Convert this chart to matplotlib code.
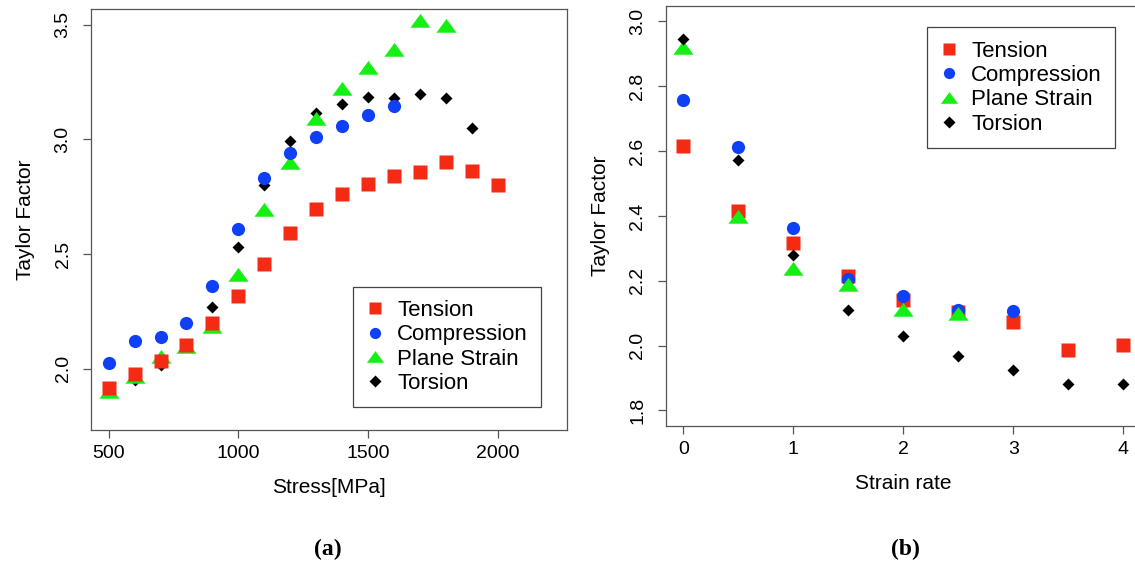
import matplotlib
matplotlib.use("Agg")
import matplotlib.pyplot as plt

plt.rcParams['font.family'] = ['Liberation Sans', 'DejaVu Sans']

# ---- panel (a): Taylor factor vs stress ----
stress = [500, 600, 700, 800, 900, 1000, 1100, 1200, 1300, 1400, 1500, 1600,
          1700, 1800, 1900, 2000]
tension_a = [1.917, 1.978, 2.032, 2.105, 2.20, 2.316, 2.455, 2.59, 2.697,
             2.761, 2.806, 2.841, 2.859, 2.90, 2.864, 2.80]
compression_a = [2.026, 2.12, 2.138, 2.20, 2.361, 2.61, 2.83, 2.94, 3.009,
                 3.057, 3.108, 3.147]
plane_a = [1.90, 1.963, 2.05, 2.094, 2.18, 2.41, 2.69, 2.897, 3.09, 3.22,
           3.31, 3.39, 3.515, 3.495]
torsion_a = [1.91, 1.95, 2.015, 2.10, 2.27, 2.532, 2.80, 2.994, 3.115, 3.156,
             3.185, 3.18, 3.20, 3.18, 3.05]

# ---- panel (b): Taylor factor vs strain rate ----
rate = [0, 0.5, 1, 1.5, 2, 2.5, 3, 3.5, 4]
tension_b = [2.616, 2.416, 2.318, 2.216, 2.142, 2.105, 2.073, 1.986, 2.003]
compression_b = [2.757, 2.613, 2.362, 2.206, 2.152, 2.109, 2.108]
plane_b = [2.919, 2.398, 2.236, 2.186, 2.111, 2.098]
torsion_b = [2.947, 2.574, 2.279, 2.11, 2.029, 1.969, 1.926, 1.882, 1.882]

labels = ["Tension", "Compression", "Plane Strain", "Torsion"]
colors = ["#f52a14", "#1040f5", "#14f014", "black"]
tri = [(-1, -0.62), (1, -0.62), (0, 0.75)]
markers = ["s", "o", tri, "D"]
sizes = [9.5, 9.5, 14.5, 6.6]

fig = plt.figure(figsize=(11.35, 5.71), dpi=100)
ax1 = fig.add_axes([0.0802, 0.2469, 0.4196, 0.7368])
ax2 = fig.add_axes([0.5865, 0.2539, 0.4188, 0.7359])


def draw(ax, xs, series, zorders):
    handles = []
    for ys, lab, c, m, s, z in zip(series, labels, colors, markers, sizes, zorders):
        h, = ax.plot(xs[:len(ys)], ys, linestyle="none", marker=m, ms=s,
                     color=c, mec="none", label=lab, zorder=z)
        handles.append(h)
    return handles


h1 = draw(ax1, stress, [tension_a, compression_a, plane_a, torsion_a], [6, 5, 4, 3])
h2 = draw(ax2, rate, [tension_b, compression_b, plane_b, torsion_b], [3, 4, 5, 6])

ax1.set_xlim(432, 2268)
ax1.set_ylim(1.732, 3.568)
ax1.set_xticks([500, 1000, 1500, 2000])
ax1.set_yticks([2.0, 2.5, 3.0, 3.5])
ax1.set_xlabel("Stress[MPa]", fontsize=15, labelpad=11)

ax2.set_xlim(-0.16, 4.16)
ax2.set_ylim(1.752, 3.048)
ax2.set_xticks([0, 1, 2, 3, 4])
ax2.set_yticks([1.8, 2.0, 2.2, 2.4, 2.6, 2.8, 3.0])
ax2.set_xlabel("Strain rate", fontsize=15, labelpad=11)

for ax in (ax1, ax2):
    ax.set_ylabel("Taylor Factor", fontsize=15, labelpad=14)
    for sp in ax.spines.values():
        sp.set_color("#555555")
        sp.set_linewidth(0.9)
    ax.tick_params(axis="both", direction="out", length=6, width=0.9,
                   color="#555555", labelsize=14)
    ax.tick_params(axis="x", pad=5)
    ax.tick_params(axis="y", pad=8)
    for t in ax.get_yticklabels():
        t.set_rotation(90)
        t.set_va("center")

leg_kw = dict(loc="upper left", borderaxespad=0, fontsize=16, frameon=True,
              fancybox=False, framealpha=1, edgecolor="#444444",
              labelspacing=0.15, borderpad=0.6, handlelength=0.8,
              handletextpad=0.6, markerscale=0.85)
l1 = ax1.legend(handles=h1, bbox_to_anchor=(0.5494, 0.3406), **leg_kw)
l2 = ax2.legend(handles=h2, bbox_to_anchor=(0.5491, 0.9488), **leg_kw)
for lg in (l1, l2):
    lg.get_frame().set_linewidth(0.9)

fig.text(328 / 1135, 1 - 549 / 571, "(a)", ha="center", va="center",
         fontsize=17, fontweight="bold", family="Liberation Serif")
fig.text(905 / 1135, 1 - 549 / 571, "(b)", ha="center", va="center",
         fontsize=17, fontweight="bold", family="Liberation Serif")

fig.savefig("out.png", dpi=100)
